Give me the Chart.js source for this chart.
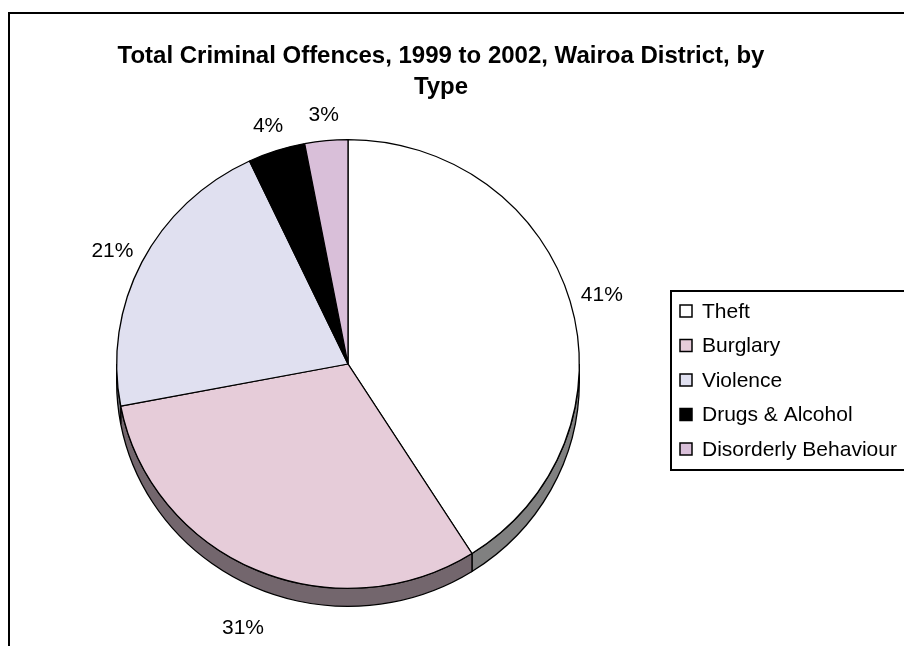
<!DOCTYPE html>
<html>
<head>
<meta charset="utf-8">
<script src="https://cdn.jsdelivr.net/npm/chart.js@4.4.0/dist/chart.umd.min.js"></script>
<style>
  html, body { margin: 0; padding: 0; background: #fff; overflow: hidden; }
  #wrap { position: relative; width: 904px; height: 646px; }
  #frame { position: absolute; left: 8px; top: 12px; width: 1000px; height: 1000px; border: 2px solid #000; box-sizing: border-box; }
  canvas { position: absolute; left: 0; top: 0; }
</style>
</head>
<body>
<div id="wrap">
  <div id="frame"></div>
  <canvas id="myChart" width="904" height="646"></canvas>
</div>
<script>
// Chart data
const titleLines = ['Total Criminal Offences, 1999 to 2002, Wairoa District, by', 'Type'];
const categories = ['Theft', 'Burglary', 'Violence', 'Drugs & Alcohol', 'Disorderly Behaviour'];
const shares = [41, 31, 21, 4, 3];
const sliceColors = ['#FFFFFF', '#E6CCD9', '#E0E0F0', '#000000', '#D9BFD9'];

const FONT = '"Liberation Sans", Arial, sans-serif';
const SQUASH = 0.97;   // top face is a slightly flattened ellipse
const DEPTH = 18;      // thickness of the 3D rim

function darken(hex) {
    const n = parseInt(hex.slice(1), 16);
    const r = (n >> 16) & 255, g = (n >> 8) & 255, b = n & 255;
    return `rgb(${Math.round(r * 0.5)}, ${Math.round(g * 0.5)}, ${Math.round(b * 0.5)})`;
}

// Draws the rim, squashes the pie, and adds title, labels and legend
const pie3d = {
    id: 'pie3d',
    beforeDatasetsDraw(chart) {
        const ctx = chart.ctx;
        const arcs = chart.getDatasetMeta(0).data;
        const cx = arcs[0].x, cy = arcs[0].y;
        ctx.save();
        ctx.translate(cx, cy);
        ctx.scale(1, SQUASH);
        ctx.translate(-cx, -cy);
        const d = DEPTH / SQUASH;
        arcs.forEach((arc, i) => {
            const r = arc.outerRadius;
            // visible rim is the lower half (0..PI in canvas angles)
            const a0 = arc.startAngle, a1 = arc.endAngle;
            for (let k = -1; k <= 1; k++) {
                const s = Math.max(a0, k * 2 * Math.PI), e = Math.min(a1, k * 2 * Math.PI + Math.PI);
                if (e <= s) continue;
                ctx.beginPath();
                ctx.arc(cx, cy + d, r, s, e);
                ctx.arc(cx, cy, r, e, s, true);
                ctx.closePath();
                ctx.fillStyle = darken(sliceColors[i]);
                ctx.fill();
                ctx.lineWidth = 1.3;
                ctx.strokeStyle = '#000';
                ctx.stroke();
            }
        });
    },
    afterDatasetsDraw(chart) {
        const ctx = chart.ctx;
        ctx.restore();

        const arcs = chart.getDatasetMeta(0).data;
        const total = shares.reduce((a, b) => a + b, 0);

        // percentage labels
        ctx.save();
        ctx.font = '21px ' + FONT;
        ctx.fillStyle = '#000';
        ctx.textAlign = 'center';
        ctx.textBaseline = 'middle';
        arcs.forEach((arc, i) => {
            const mid = (arc.startAngle + arc.endAngle) / 2;
            const dx = Math.cos(mid), dy = Math.sin(mid);
            const R = arc.outerRadius + 12;
            const ax = arc.x + dx * R;
            let ay = arc.y + dy * R * SQUASH;
            if (dy > 0) ay += 2 * DEPTH * dy;
            const txt = Math.round(shares[i] / total * 100) + '%';
            const w = ctx.measureText(txt).width;
            ctx.fillText(txt, ax + dx * w / 2, ay + dy * 15 + 1);
        });

        // title
        ctx.font = 'bold 24px ' + FONT;
        titleLines.forEach((line, i) => ctx.fillText(line, 441, 56 + i * 31));

        // legend
        const lx = 671, ly = 291;
        ctx.lineWidth = 2;
        ctx.strokeStyle = '#000';
        ctx.strokeRect(lx, ly, 300, 179);
        ctx.font = '21px ' + FONT;
        ctx.textAlign = 'left';
        categories.forEach((name, i) => {
            const y = ly + 20 + i * 34.5;
            ctx.fillStyle = sliceColors[i];
            ctx.fillRect(680, y - 6, 12, 12);
            ctx.lineWidth = 1.5;
            ctx.strokeRect(680, y - 6, 12, 12);
            ctx.fillStyle = '#000';
            ctx.fillText(name, 702, y + 1);
        });
        ctx.restore();
    }
};

const ctx = document.getElementById('myChart').getContext('2d');
const myChart = new Chart(ctx, {
    type: 'pie',
    data: {
        labels: categories,
        datasets: [{
            data: shares,
            backgroundColor: sliceColors,
            borderColor: '#000',
            borderWidth: 1.3
        }]
    },
    options: {
        responsive: false,
        animation: false,
        events: [],
        layout: {
            padding: { left: 116, right: 324, top: 132, bottom: 50 }
        },
        plugins: {
            legend: { display: false },
            title: { display: false },
            tooltip: { enabled: false }
        }
    },
    plugins: [pie3d]
});
</script>
</body>
</html>
